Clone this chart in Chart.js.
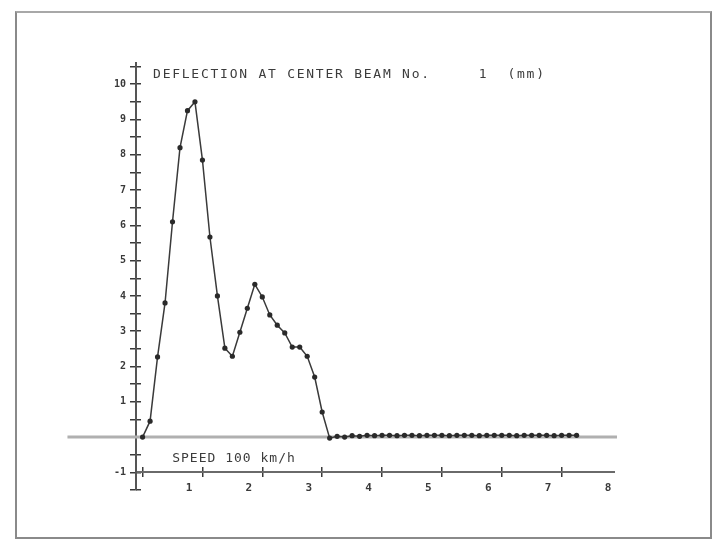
<!DOCTYPE html>
<html>
<head>
<meta charset="utf-8">
<script src="https://cdn.jsdelivr.net/npm/chart.js@4/dist/chart.umd.min.js"></script>
<style>
  html, body { margin: 0; padding: 0; background: #fff; }
  #wrap { position: relative; width: 718px; height: 540px; overflow: hidden; }
  #frame { position: absolute; left: 15px; top: 11px; width: 697px; height: 528px;
           border: 2px solid #8a8a8a; border-top-color: #a8a8a8;
           box-sizing: border-box; pointer-events: none; }
  canvas { position: absolute; left: 0; top: 0; }
</style>
</head>
<body>
<div id="wrap">
  <canvas id="c" width="718" height="540"></canvas>
  <div id="frame"></div>
</div>
<script>
// ---- data ----
const titleText = 'DEFLECTION AT CENTER BEAM No.     1  (mm)';
const speedText = 'SPEED 100 km/h';

// position along the span (x axis units)
const xValues = [
  0.225, 0.35, 0.475, 0.6, 0.725, 0.85, 0.975, 1.1,
  1.225, 1.35, 1.475, 1.6, 1.725, 1.85, 1.975, 2.1,
  2.225, 2.35, 2.475, 2.6, 2.725, 2.85, 2.975, 3.1,
  3.225, 3.35, 3.475, 3.6, 3.725, 3.85, 3.975, 4.1,
  4.225, 4.35, 4.475, 4.6, 4.725, 4.85, 4.975, 5.1,
  5.225, 5.35, 5.475, 5.6, 5.725, 5.85, 5.975, 6.1,
  6.225, 6.35, 6.475, 6.6, 6.725, 6.85, 6.975, 7.1,
  7.225, 7.35, 7.475
];
// deflection (mm)
const deflection = [
  0.0, 0.45, 2.27, 3.8, 6.1, 8.2, 9.25, 9.5,
  7.85, 5.67, 4.0, 2.52, 2.29, 2.97, 3.65, 4.33,
  3.97, 3.46, 3.17, 2.95, 2.55, 2.55, 2.29, 1.70,
  0.71, -0.03, 0.02, 0.0, 0.04, 0.02, 0.05, 0.04,
  0.05, 0.05, 0.04, 0.05, 0.05, 0.04, 0.05, 0.05,
  0.05, 0.04, 0.05, 0.05, 0.05, 0.04, 0.05, 0.05,
  0.05, 0.05, 0.04, 0.05, 0.05, 0.05, 0.05, 0.04,
  0.05, 0.05, 0.05
];
// baseline (zero reference line)
const baselineX = [-1.03, 8.15];
const baselineY = [0, 0];

// ticks
const yTickValues = [-1.5, -1, -0.5, 0, 0.5, 1, 1.5, 2, 2.5, 3, 3.5, 4, 4.5, 5, 5.5,
                     6, 6.5, 7, 7.5, 8, 8.5, 9, 9.5, 10, 10.5];
const yTickLabels = ['', '-1', '', '', '', '1', '', '2', '', '3', '', '4', '', '5', '',
                     '6', '', '7', '', '8', '', '9', '', '10', ''];
const xLabelValues = [1, 2, 3, 4, 5, 6, 7, 8];
const xLabelTexts = ['1', '2', '3', '4', '5', '6', '7', '8'];
const xMarkValues = [0.225, 1.225, 2.225, 3.225, 4.225, 5.225, 6.225, 7.225];

// ---- chart ----
const X_MIN = 0.115, X_MAX = 8.1, Y_MIN = -1.5, Y_MAX = 10.6;
const Y_LABEL_AT = -0.05;   // x value where the y tick labels end (left of the axis)
const ink = '#3a3a3a';
const mono = 'DejaVu Sans Mono';

const points = xValues.map((x, i) => ({ x, y: deflection[i] }));
const baseline = baselineX.map((x, i) => ({ x, y: baselineY[i] }));

const setTicks = vals => scale => { scale.ticks = vals.map(v => ({ value: v })); };

const textPlugin = {
  id: 'plotText',
  afterDraw(chart) {
    const { ctx, scales } = chart;
    const xs = scales.x, ys = scales.y;
    ctx.save();
    ctx.fillStyle = '#3c3c3c';
    ctx.textBaseline = 'middle';
    ctx.textAlign = 'left';
    ctx.font = '13px "' + mono + '"';
    ctx.letterSpacing = '1.75px';
    ctx.fillText(titleText, xs.getPixelForValue(0.4), ys.getPixelForValue(10.26));
    ctx.letterSpacing = '1.0px';
    ctx.fillText(speedText, xs.getPixelForValue(0.72), ys.getPixelForValue(-0.62));
    ctx.restore();
  }
};

const markAxis = (axis, pos, vals, len) => ({
  type: 'linear', axis, position: pos,
  min: axis === 'x' ? X_MIN : Y_MIN, max: axis === 'x' ? X_MAX : Y_MAX,
  afterBuildTicks: setTicks(vals),
  ticks: { display: false },
  grid: { drawOnChartArea: false, drawTicks: true, tickLength: len, tickColor: ink, lineWidth: 1.5 },
  border: { display: false }
});

new Chart(document.getElementById('c'), {
  type: 'scatter',
  data: {
    datasets: [
      {
        data: baseline, showLine: true, clip: false,
        borderColor: '#b0b0b0', borderWidth: 3, pointRadius: 0, order: 2
      },
      {
        data: points, showLine: true, tension: 0,
        borderColor: ink, borderWidth: 1.5,
        pointRadius: 2.6, pointBackgroundColor: '#2a2a2a', pointBorderColor: '#2a2a2a',
        pointBorderWidth: 0, order: 1
      }
    ]
  },
  options: {
    responsive: false,
    animation: false,
    devicePixelRatio: 1,
    layout: { padding: { left: 136, right: 104, top: 63, bottom: 50 } },
    plugins: { legend: { display: false }, tooltip: { enabled: false }, title: { display: false } },
    scales: {
      x: {
        type: 'linear', position: { y: -1 }, min: X_MIN, max: X_MAX,
        afterBuildTicks: setTicks(xLabelValues),
        ticks: {
          color: ink, padding: 9, maxRotation: 0,
          font: { family: mono, size: 11, weight: 'bold' },
          callback: (v) => { const i = xLabelValues.indexOf(v); return i >= 0 ? xLabelTexts[i] : ''; }
        },
        grid: { drawOnChartArea: false, drawTicks: false },
        border: { display: true, color: '#6a6a6a', width: 2 }
      },
      xm1: markAxis('x', { y: -1 }, xMarkValues, 5),
      xm2: markAxis('x', { y: -1 }, xMarkValues, -5),
      y: {
        type: 'linear', position: { x: X_MIN }, min: Y_MIN, max: Y_MAX,
        afterBuildTicks: setTicks(yTickValues),
        ticks: { display: false },
        grid: { drawOnChartArea: false, drawTicks: true, tickLength: 5, tickColor: ink, lineWidth: 1.5 },
        border: { display: true, color: '#555', width: 2 }
      },
      ym2: markAxis('y', { x: X_MIN }, yTickValues, -5),
      yLabels: {
        type: 'linear', axis: 'y', position: { x: Y_LABEL_AT }, min: Y_MIN, max: Y_MAX,
        afterBuildTicks: setTicks(yTickValues),
        ticks: {
          color: ink,
          font: { family: mono, size: 10, weight: 'bold' },
          callback: (v) => { const i = yTickValues.indexOf(v); return i >= 0 ? yTickLabels[i] : ''; }
        },
        grid: { drawOnChartArea: false, drawTicks: false },
        border: { display: false }
      }
    }
  },
  plugins: [textPlugin]
});
</script>
</body>
</html>
